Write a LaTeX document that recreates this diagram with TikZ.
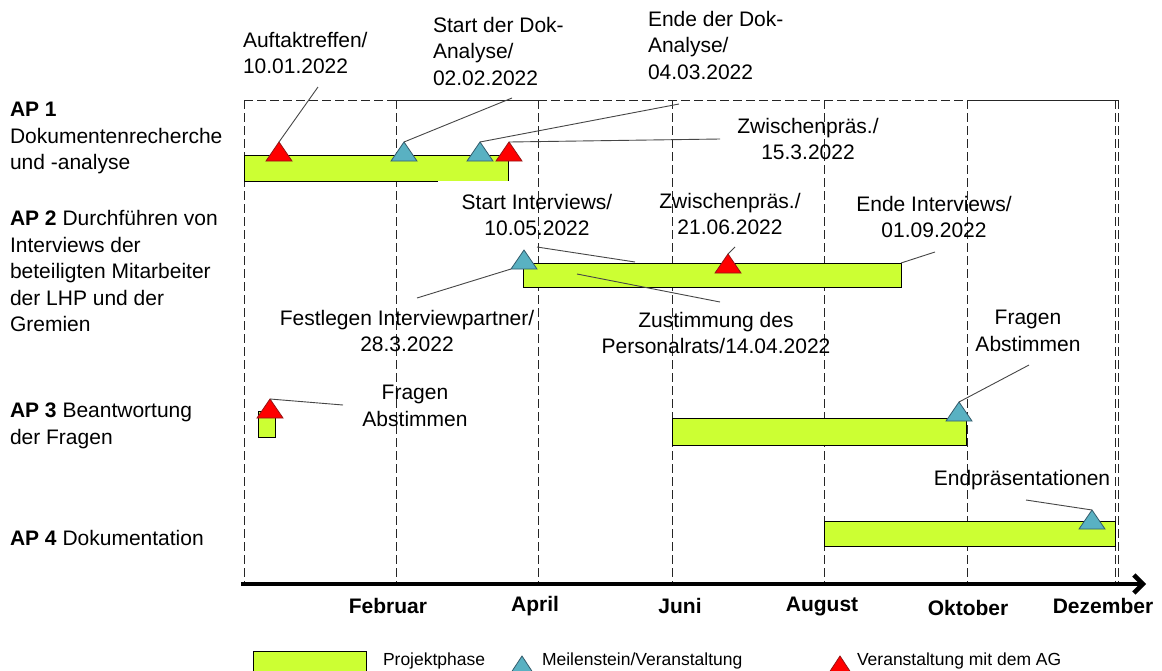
\documentclass[tikz,border=0pt]{standalone}
\usepackage{fontspec}
\setmainfont{Liberation Sans}
\usetikzlibrary{shapes.geometric,arrows.meta}
\definecolor{phasegreen}{RGB}{204,255,51}
\definecolor{msblue}{RGB}{89,177,194}
\definecolor{msblueline}{RGB}{52,92,108}
\definecolor{agred}{RGB}{255,0,0}
\definecolor{agredline}{RGB}{150,20,20}
\definecolor{leadgray}{RGB}{70,70,70}

\begin{document}
\begin{tikzpicture}[x=1pt, y=-1pt,
    every node/.style={inner sep=0pt, outer sep=0pt, font=\fontsize{21}{26.5}\selectfont},
    grid/.style={black!85, line width=0.8pt, dash pattern=on 9pt off 4pt},
    phasebar/.style={rectangle, anchor=north west, fill=phasegreen, draw=black, line width=0.9pt},
    mile/.style={isosceles triangle, isosceles triangle stretches, shape border rotate=90,
        minimum width=26pt, minimum height=19pt, line width=0.8pt, anchor=apex},
    milestone/.style={mile, fill=msblue, draw=msblueline},
    agevent/.style={mile, fill=agred, draw=agredline},
    callout/.style={leadgray, line width=0.9pt},
    month/.style={font=\bfseries\fontsize{21}{26}\selectfont},
    legendtext/.style={anchor=west, font=\fontsize{17.5}{21}\selectfont}]

    \useasboundingbox (0,0) rectangle (1162,670);
    \fill[white] (0,0) rectangle (1162,670);

    \foreach \gx in {244,396,538,672,824,967,1115,1118}
        \draw[grid] (\gx,100) -- (\gx,584);
    \draw[grid] (244,100) -- (396,100);
    \draw[black!85, line width=0.8pt] (396,100) -- (538,100);
    \draw[grid] (538,100) -- (967,100);
    \draw[black!85, line width=0.8pt] (967,100) -- (1118,100);

    \node[anchor=west, align=left] (ap1) at (10,138) {\textbf{AP 1}\\Dokumentenrecherche\\und -analyse};
    \node[anchor=west, align=left] (ap2) at (10,271) {\textbf{AP 2} Durchführen von\\Interviews der\\beteiligten Mitarbeiter\\der LHP und der\\Gremien};
    \node[anchor=west, align=left] (ap3) at (10,426) {\textbf{AP 3} Beantwortung\\der Fragen};
    \node[anchor=west, align=left] (ap4) at (10,538) {\textbf{AP 4} Dokumentation};

    \node[phasebar, draw=none, minimum width=264pt, minimum height=26pt] (ap1bar) at (244,155) {};
    \draw[black, line width=0.9pt] (438,181) -- (ap1bar.south west) -- (ap1bar.north west) -- (ap1bar.north east) -- (ap1bar.south east);
    \node[phasebar, minimum width=378pt, minimum height=24pt] (ap2bar) at (523,263) {};
    \node[phasebar, minimum width=17pt, minimum height=26pt] (ap3small) at (258,411) {};
    \node[phasebar, minimum width=294pt, minimum height=27pt] (ap3bar) at (672,418) {};
    \node[phasebar, minimum width=291pt, minimum height=25pt] (ap4bar) at (824,521) {};

    \node[agevent] (auftakt) at (279,142) {};
    \node[milestone] (startdok) at (404,142) {};
    \node[milestone] (endedok) at (480,142) {};
    \node[agevent] (zwpraes1) at (509,142) {};
    \node[milestone] (startint) at (524,250) {};
    \node[agevent] (zwpraes2) at (728,254) {};
    \node[agevent] (fragen1) at (270,399) {};
    \node[milestone] (fragen2) at (959,402) {};
    \node[milestone] (endpraes) at (1092,510) {};

    \node[anchor=west, align=left] (auftakttext) at (243,53) {Auftaktreffen/\\10.01.2022};
    \node[anchor=west, align=left] (startdoktext) at (433,51) {Start der Dok-\\Analyse/\\02.02.2022};
    \node[anchor=west, align=left] (endedoktext) at (648,45) {Ende der Dok-\\Analyse/\\04.03.2022};
    \node[align=center] (zwpraes1text) at (808,139) {Zwischenpräs./\\15.3.2022};
    \node[align=center] (startinttext) at (537,215) {Start Interviews/\\10.05.2022};
    \node[align=center] (zwpraes2text) at (730,214) {Zwischenpräs./\\21.06.2022};
    \node[align=center] (endeinttext) at (934,217) {Ende Interviews/\\01.09.2022};
    \node[align=center] (festlegentext) at (407,331) {Festlegen Interviewpartner/\\28.3.2022};
    \node[align=center] (zustimmtext) at (716,333) {Zustimmung des\\Personalrats/14.04.2022};
    \node[align=center] (fragen1text) at (415,406) {Fragen\\Abstimmen};
    \node[align=center] (fragen2text) at (1028,331) {Fragen\\Abstimmen};
    \node (endpraestext) at (1022,480) {Endpräsentationen};

    \coordinate (c1) at (318,87);
    \coordinate (c2) at (512,98);
    \coordinate (c3) at (679,104);
    \coordinate (c4) at (720,139);
    \coordinate (c5a) at (537,247);
    \coordinate (c5b) at (635,262);
    \coordinate (c6) at (417,298);
    \coordinate (c7a) at (577,274);
    \coordinate (c7b) at (720,302);
    \coordinate (c8) at (735,247);
    \coordinate (c9) at (935,252);
    \coordinate (c10) at (343,405);
    \coordinate (c11) at (1029,365);
    \coordinate (c12) at (1026,500);
    \draw[callout] (auftakt.apex) -- (c1);
    \draw[callout] (startdok.apex) -- (c2);
    \draw[callout] (endedok.apex) -- (c3);
    \draw[callout] (zwpraes1.apex) -- (c4);
    \draw[callout] (c5a) -- (c5b);
    \draw[callout] (startint.left corner) -- (c6);
    \draw[callout] (c7a) -- (c7b);
    \draw[callout] (zwpraes2.apex) -- (c8);
    \draw[callout] (ap2bar.north east) -- (c9);
    \draw[callout] (fragen1.apex) -- (c10);
    \draw[callout] (fragen2.apex) -- (c11);
    \draw[callout] (endpraes.apex) -- (c12);

    \coordinate (axl) at (241,584);
    \coordinate (axr) at (1146,584);
    \draw[black, line width=4.5pt, -{Straight Barb[length=9pt, width=18pt]}] (axl) -- (axr);
    \node[month] (feb) at (388,606) {Februar};
    \node[month] (apr) at (535,606) {April};
    \node[month] (jun) at (680,606) {Juni};
    \node[month] (aug) at (822,606) {August};
    \node[month] (okt) at (968,608) {Oktober};
    \node[month] (dez) at (1103,606) {Dezember};

    \node[phasebar, minimum width=113pt, minimum height=22pt] (legbar) at (253,651) {};
    \node[legendtext] (legbartext) at (383,661) {Projektphase};
    \node[milestone, minimum width=21pt, minimum height=16pt] (legms) at (522,656) {};
    \node[legendtext] (legmstext) at (542,661) {Meilenstein/Veranstaltung};
    \node[agevent, minimum width=21pt, minimum height=16pt] (legag) at (840,656) {};
    \node[legendtext] (legagtext) at (857,661) {Veranstaltung mit dem AG};
\end{tikzpicture}
\end{document}
